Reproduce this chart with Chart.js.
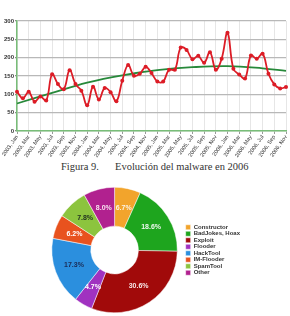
<!DOCTYPE html>
<html>
<head>
<meta charset="utf-8">
<script src="https://cdn.jsdelivr.net/npm/chart.js@4.4.1/dist/chart.umd.min.js"></script>
<style>
  body { margin: 0; background: #fff; width: 290px; height: 316px; overflow: hidden; position: relative; }
  #line { position: absolute; left: 0; top: 0; }
  #pie { position: absolute; left: 0; top: 180px; }
  .cap { position: absolute; top: 161px; font-family: "Liberation Serif", serif; font-size: 10.5px; color: #333; white-space: nowrap; }
</style>
</head>
<body>
<canvas id="line" width="290" height="161"></canvas>
<span class="cap" style="left:61px">Figura 9.</span>
<span class="cap" style="left:115px">Evolución del malware en 2006</span>
<canvas id="pie" width="290" height="136"></canvas>
<script>
// monthly counts, 2003 Jan .. 2006 Nov
const months = [
  '2003, Jan','2003, Feb','2003, Mar','2003, Apr','2003, May','2003, Jun','2003, Jul','2003, Aug','2003, Sep','2003, Oct','2003, Nov','2003, Dec',
  '2004, Jan','2004, Feb','2004, Mar','2004, Apr','2004, May','2004, Jun','2004, Jul','2004, Aug','2004, Sep','2004, Oct','2004, Nov','2004, Dec',
  '2005, Jan','2005, Feb','2005, Mar','2005, Apr','2005, May','2005, Jun','2005, Jul','2005, Aug','2005, Sep','2005, Oct','2005, Nov','2005, Dec',
  '2006, Jan','2006, Feb','2006, Mar','2006, Apr','2006, May','2006, Jun','2006, Jul','2006, Aug','2006, Sep','2006, Oct','2006, Nov'
];
const malware = [
  107, 89, 107, 80, 94, 83, 155, 128, 114, 166, 128, 110,
  70, 121, 86, 117, 106, 81, 137, 180, 151, 156, 175, 158,
  135, 135, 167, 167, 228, 221, 196, 205, 186, 215, 167, 197,
  268, 170, 154, 143, 206, 197, 211, 156, 127, 116, 120
];
// trend curve read at a few months, drawn smooth between them
const trendMonths = ['2003, Jan','2003, Jul','2004, Jan','2004, Jul','2005, Jan','2005, Jul','2006, Jan','2006, Jul','2006, Nov'];
const trendValues = [75, 104, 132, 152, 166, 174, 177, 171, 164];
const yTicks = [0, 50, 100, 150, 200, 250, 300];

const categories = ['Constructor', 'BadJokes, Hoax', 'Exploit', 'Flooder', 'HackTool', 'IM-Flooder', 'SpamTool', 'Other'];
const shares = [6.7, 18.6, 30.6, 4.7, 17.3, 6.2, 7.8, 8.0];
const sliceColors = ['#f2a42c', '#1ea51e', '#a10a0a', '#a032c0', '#2b8fde', '#e8521e', '#8cc43e', '#b1218f'];
const labelColors = ['#fbf3e6', '#eef8ee', '#f8e8e8', '#fff', '#1b2b55', '#fff', '#1f2f20', '#f8e4f0'];

const green = '#78bd78';

new Chart(document.getElementById('line'), {
  type: 'line',
  data: {
    labels: months,
    datasets: [{
      data: malware,
      borderColor: '#dc1c26',
      backgroundColor: '#dc1c26',
      borderWidth: 1.8,
      pointRadius: 2,
      pointBorderWidth: 0,
      tension: 0.4
    }, {
      data: trendMonths.map((m, i) => ({ x: m, y: trendValues[i] })),
      borderColor: '#27893a',
      borderWidth: 1.8,
      pointRadius: 0,
      spanGaps: true,
      tension: 0.4
    }]
  },
  options: {
    responsive: false,
    animation: false,
    clip: false,
    layout: { padding: { top: 21, right: 0, left: 0, bottom: 0 } },
    plugins: { legend: { display: false }, tooltip: { enabled: false } },
    scales: {
      x: {
        grid: {
          color: c => c.index % 2 ? 'transparent' : '#e6e6e6',
          tickColor: c => c.index % 2 ? 'transparent' : '#999',
          tickLength: 3
        },
        border: { color: green, width: 1.5 },
        ticks: {
          autoSkip: false,
          minRotation: 55,
          maxRotation: 55,
          padding: 0,
          color: '#333',
          font: { family: 'Liberation Sans', size: 5.5 },
          callback: function (v, i) { return i % 2 ? '' : this.getLabelForValue(v); }
        },
        afterFit: s => { s.height = 30; s.paddingLeft = 0; s.paddingRight = 0; }
      },
      y: {
        min: 0,
        max: 300,
        afterBuildTicks: s => { s.ticks = yTicks.map(v => ({ value: v })); },
        grid: { color: '#b8b8b8', lineWidth: 1.2, tickColor: '#888', tickLength: 2 },
        border: { color: green, width: 1.5 },
        ticks: {
          padding: 1,
          color: '#333',
          font: { family: 'Liberation Sans', size: 6, weight: 'bold' }
        },
        afterFit: s => { s.width = 17; }
      }
    }
  }
});

const sliceLabels = {
  id: 'sliceLabels',
  afterDatasetsDraw(chart) {
    const ctx = chart.ctx;
    const meta = chart.getDatasetMeta(0);
    ctx.save();
    ctx.font = 'bold 7px "Liberation Sans", Arial';
    ctx.textAlign = 'center';
    ctx.textBaseline = 'middle';
    meta.data.forEach((arc, i) => {
      const p = arc.tooltipPosition();
      ctx.fillStyle = labelColors[i];
      ctx.fillText(shares[i].toFixed(1) + '%', p.x, p.y);
    });
    ctx.restore();
  }
};

new Chart(document.getElementById('pie'), {
  type: 'doughnut',
  data: {
    labels: categories,
    datasets: [{
      data: shares,
      backgroundColor: sliceColors,
      borderColor: '#fff',
      borderWidth: 0.5
    }]
  },
  options: {
    responsive: false,
    animation: false,
    cutout: '38%',
    layout: { padding: { top: 7, bottom: 3, left: 44, right: 40 } },
    plugins: {
      tooltip: { enabled: false },
      legend: {
        position: 'right',
        labels: {
          boxWidth: 5,
          boxHeight: 5,
          padding: 0.5,
          color: '#333',
          font: { family: 'Liberation Sans', size: 6, weight: 'bold' }
        }
      }
    }
  },
  plugins: [sliceLabels]
});
</script>
</body>
</html>
